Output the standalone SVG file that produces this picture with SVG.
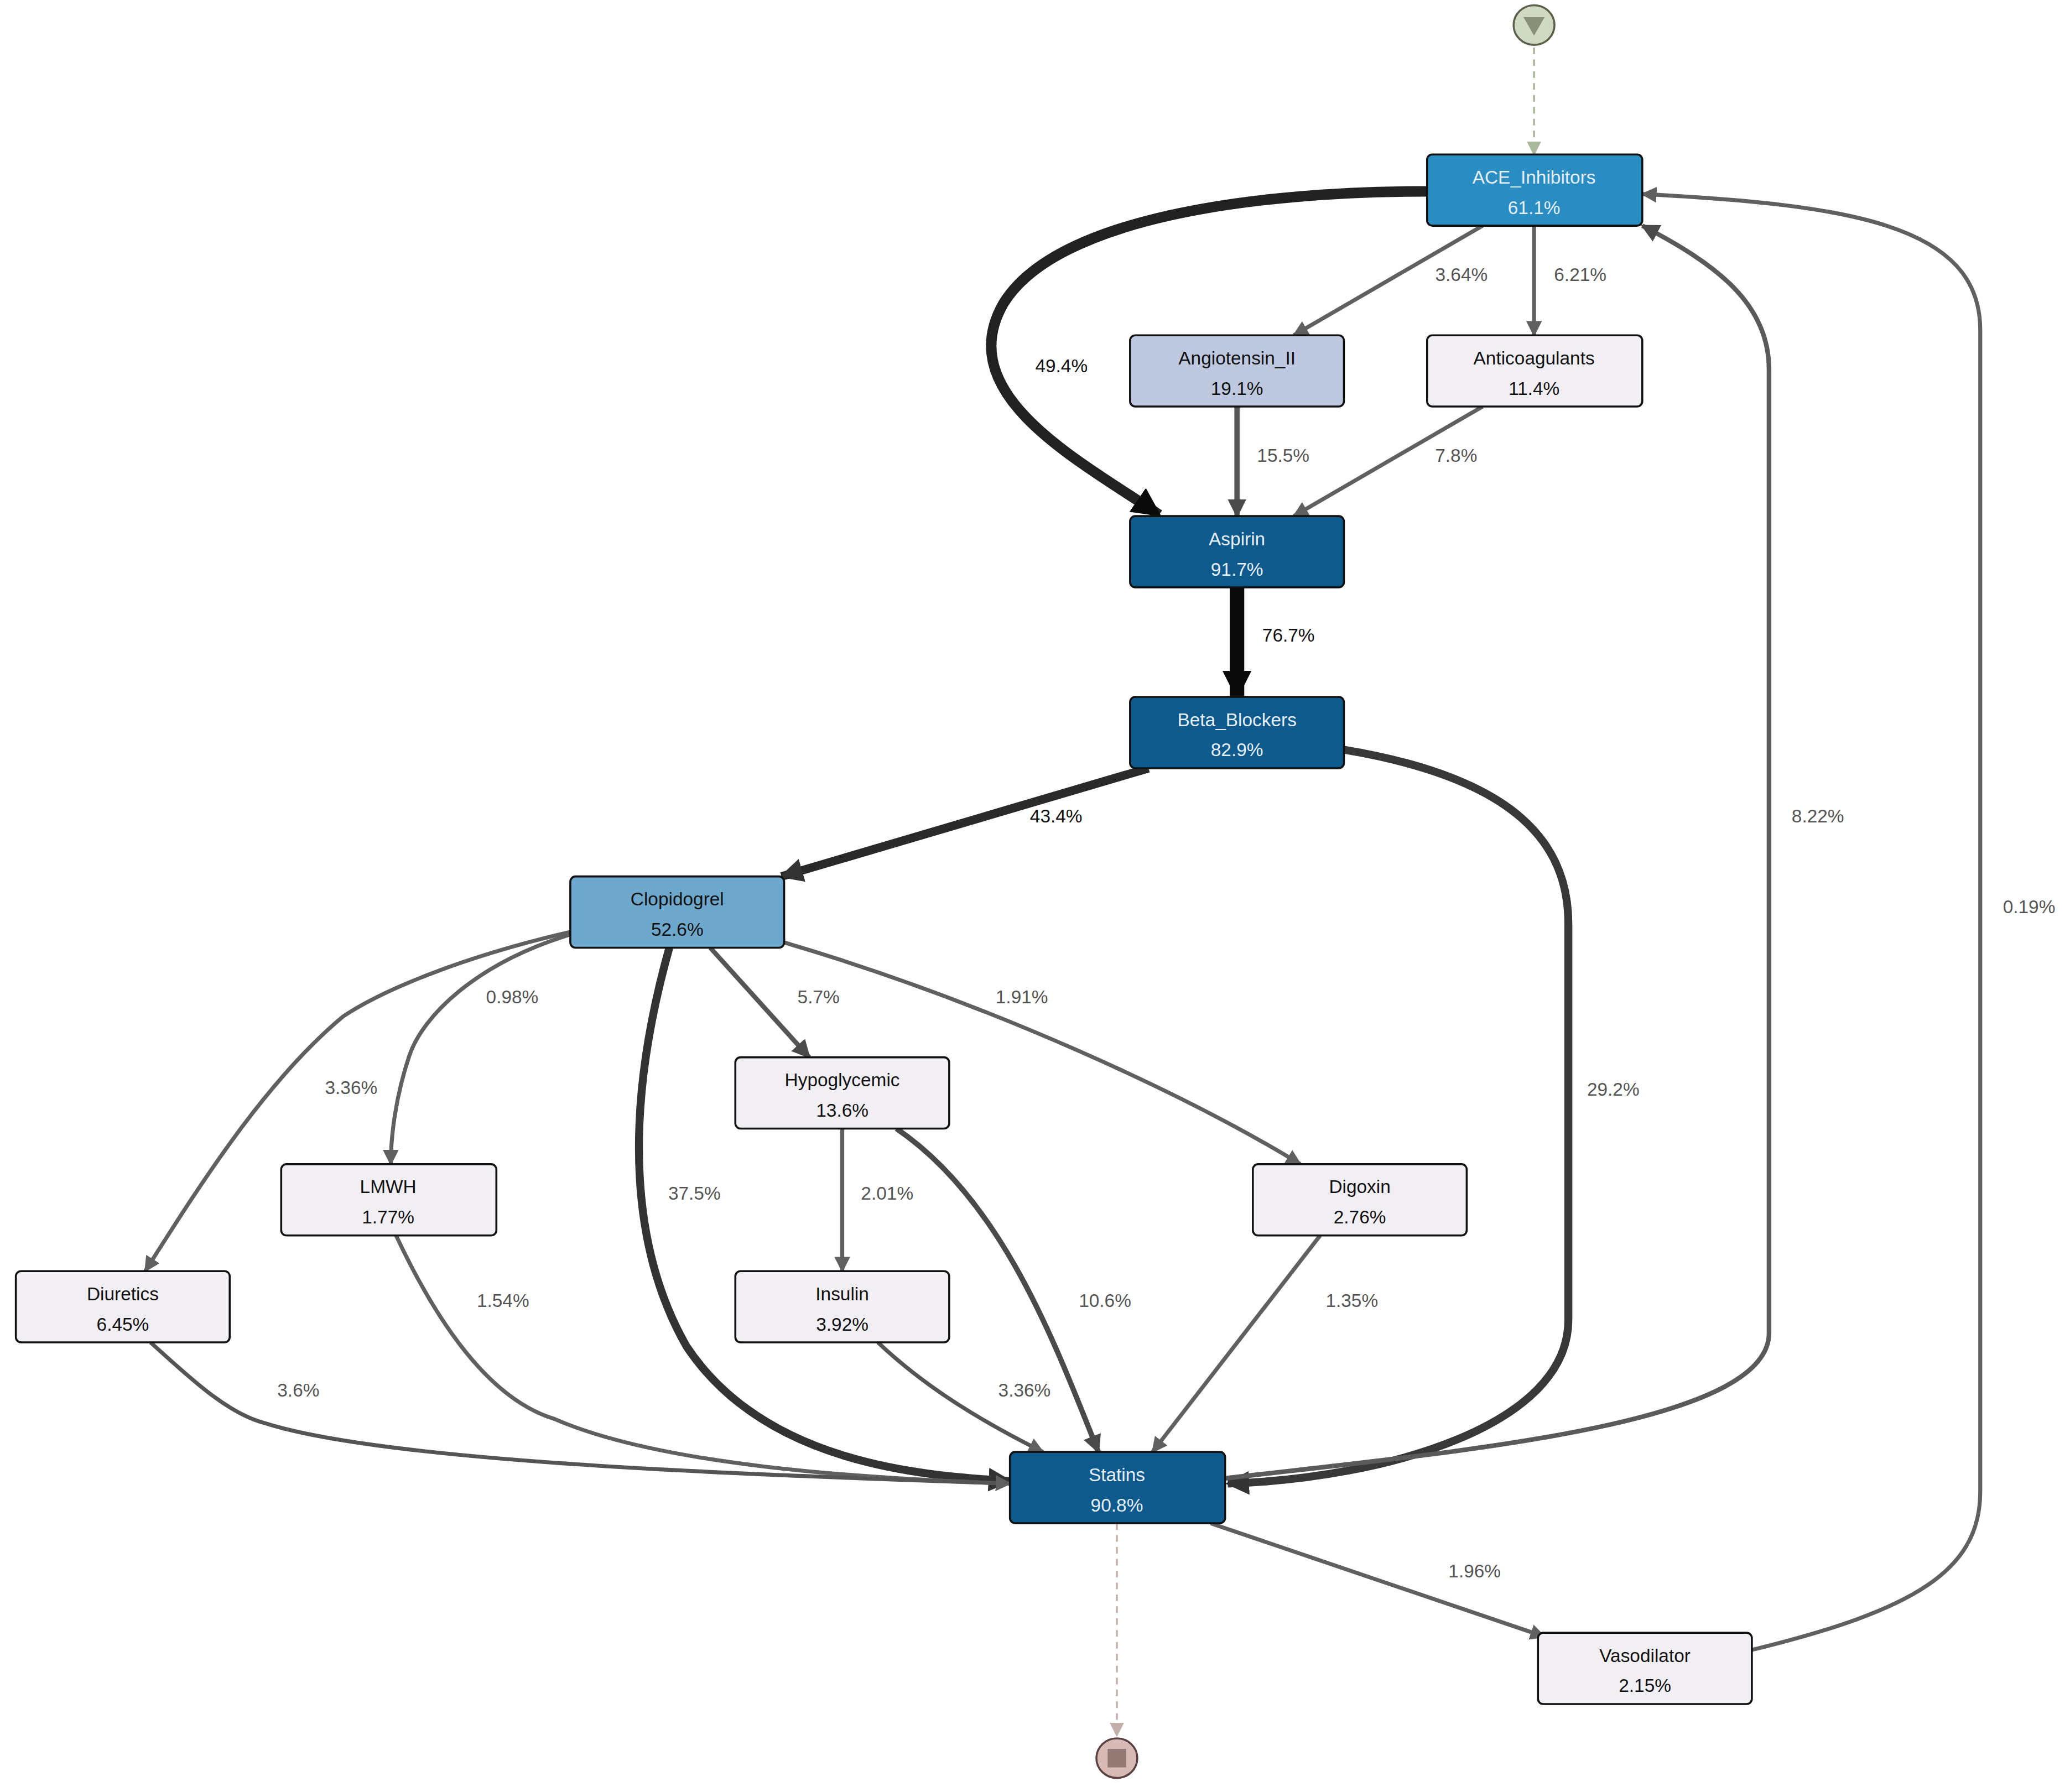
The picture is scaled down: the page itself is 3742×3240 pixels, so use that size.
<svg xmlns="http://www.w3.org/2000/svg" width="3742" height="3240" viewBox="0 0 3742 3240">
<style>
.n{stroke:#111;stroke-width:1.5}
.t{font-family:"Liberation Sans",Arial,sans-serif;font-size:14px;text-anchor:middle}
.d{fill:#e6eef7}
.k{fill:#111}
.e{fill:none}
.l{font-family:"Liberation Sans",Arial,sans-serif;font-size:14px;text-anchor:middle;fill:#555}
.lb{fill:#111}
</style>
<defs>
<marker id="ag" markerUnits="userSpaceOnUse" viewBox="0 0 10 10" refX="9" refY="5" markerWidth="12" markerHeight="12" orient="auto"><path d="M0,0L10,5L0,10z" fill="#606060"/></marker>
<marker id="ag2" markerUnits="userSpaceOnUse" viewBox="0 0 10 10" refX="9" refY="5" markerWidth="14" markerHeight="14" orient="auto"><path d="M0,0L10,5L0,10z" fill="#4a4a4a"/></marker>
<marker id="ad" markerUnits="userSpaceOnUse" viewBox="0 0 10 10" refX="9" refY="5" markerWidth="18" markerHeight="18" orient="auto"><path d="M0,0L10,5L0,10z" fill="#333"/></marker>
<marker id="ak" markerUnits="userSpaceOnUse" viewBox="0 0 10 10" refX="9" refY="5" markerWidth="22" markerHeight="22" orient="auto"><path d="M0,0L10,5L0,10z" fill="#0a0a0a"/></marker>
<marker id="as" markerUnits="userSpaceOnUse" viewBox="0 0 10 10" refX="9" refY="5" markerWidth="11" markerHeight="11" orient="auto"><path d="M0,0L10,5L0,10z" fill="#a9b79a"/></marker>
<marker id="ae" markerUnits="userSpaceOnUse" viewBox="0 0 10 10" refX="9" refY="5" markerWidth="11" markerHeight="11" orient="auto"><path d="M0,0L10,5L0,10z" fill="#c4b0ab"/></marker>
</defs>
<rect width="3742" height="3240" fill="#fff"/>
<g transform="scale(2.3865)">
<g id="connectors">
<path class="e" d="M1162,36L1162,117" stroke="#a9b79a" stroke-width="1.5" stroke-dasharray="5,4" marker-end="url(#as)"/>
<path class="e" d="M1081,145C950,145 800,165 760,230C720,300 820,350 878,390" stroke="#222" stroke-width="8" marker-end="url(#ak)"/>
<path class="e" d="M1123,171L980,254" stroke="#606060" stroke-width="3" marker-end="url(#ag)"/>
<path class="e" d="M1162,171L1162,254" stroke="#606060" stroke-width="3" marker-end="url(#ag)"/>
<path class="e" d="M937,308L937,391" stroke="#555" stroke-width="4" marker-end="url(#ag2)"/>
<path class="e" d="M1123,308L980,391" stroke="#606060" stroke-width="3" marker-end="url(#ag)"/>
<path class="e" d="M937,445L937,528" stroke="#0a0a0a" stroke-width="11" marker-end="url(#ak)"/>
<path class="e" d="M870,582L592,664" stroke="#2a2a2a" stroke-width="6.5" marker-end="url(#ad)"/>
<path class="e" d="M1018,568C1150,590 1188,640 1188,700L1188,1000C1188,1080 1050,1120 930,1124" stroke="#383838" stroke-width="6" marker-end="url(#ad)"/>
<path class="e" d="M928,1120C1100,1100 1340,1080 1340,1010L1340,280C1340,230 1300,200 1244,171" stroke="#5a5a5a" stroke-width="3.5" marker-end="url(#ag2)"/>
<path class="e" d="M1327,1250C1450,1220 1500,1190 1500,1130L1500,250C1500,170 1400,155 1244,147" stroke="#606060" stroke-width="3" marker-end="url(#ag)"/>
<path class="e" d="M507,718C470,850 480,950 520,1020C580,1110 700,1118 765,1122" stroke="#333" stroke-width="6" marker-end="url(#ad)"/>
<path class="e" d="M432,706C350,725 290,750 260,770C200,820 150,900 110,963" stroke="#606060" stroke-width="3" marker-end="url(#ag)"/>
<path class="e" d="M432,708C360,730 320,770 310,800C300,830 296,860 296,882" stroke="#606060" stroke-width="3" marker-end="url(#ag)"/>
<path class="e" d="M538,718L613,801" stroke="#555" stroke-width="3.5" marker-end="url(#ag2)"/>
<path class="e" d="M594,714C750,760 900,830 985,882" stroke="#606060" stroke-width="3" marker-end="url(#ag)"/>
<path class="e" d="M638,855L638,963" stroke="#606060" stroke-width="3" marker-end="url(#ag)"/>
<path class="e" d="M679,855C760,910 800,1020 832,1100" stroke="#4a4a4a" stroke-width="4" marker-end="url(#ag2)"/>
<path class="e" d="M1000,936L873,1100" stroke="#606060" stroke-width="3" marker-end="url(#ag)"/>
<path class="e" d="M300,936C330,1000 370,1060 420,1075C500,1110 650,1120 765,1124" stroke="#606060" stroke-width="3" marker-end="url(#ag)"/>
<path class="e" d="M665,1017C700,1050 740,1075 790,1100" stroke="#555" stroke-width="3" marker-end="url(#ag)"/>
<path class="e" d="M114,1017C140,1040 170,1070 200,1078C300,1110 600,1118 765,1124" stroke="#555" stroke-width="3" marker-end="url(#ag)"/>
<path class="e" d="M917,1154L1170,1240" stroke="#606060" stroke-width="3" marker-end="url(#ag)"/>
<path class="e" d="M846,1154L846,1315" stroke="#c4b0ab" stroke-width="1.5" stroke-dasharray="5,4" marker-end="url(#ae)"/>
<text class="l lb" x="804" y="282">49.4%</text>
<text class="l" x="1107" y="213">3.64%</text>
<text class="l" x="1197" y="213">6.21%</text>
<text class="l" x="972" y="350">15.5%</text>
<text class="l" x="1103" y="350">7.8%</text>
<text class="l lb" x="976" y="486">76.7%</text>
<text class="l lb" x="800" y="623">43.4%</text>
<text class="l" x="1222" y="830">29.2%</text>
<text class="l" x="1377" y="623">8.22%</text>
<text class="l" x="1537" y="692">0.19%</text>
<text class="l" x="526" y="909">37.5%</text>
<text class="l" x="266" y="829">3.36%</text>
<text class="l" x="388" y="760">0.98%</text>
<text class="l" x="620" y="760">5.7%</text>
<text class="l" x="774" y="760">1.91%</text>
<text class="l" x="672" y="909">2.01%</text>
<text class="l" x="837" y="990">10.6%</text>
<text class="l" x="1024" y="990">1.35%</text>
<text class="l" x="381" y="990">1.54%</text>
<text class="l" x="776" y="1058">3.36%</text>
<text class="l" x="226" y="1058">3.6%</text>
<text class="l" x="1117" y="1195">1.96%</text>
</g>
<g id="start"><ellipse cx="1162" cy="19" rx="15.5" ry="15" fill="#d0d9c1" stroke="#5a604a" stroke-width="1.5"/><path d="M1154,13L1170,13L1162,27z" fill="#8a9078"/></g>
<g id="end"><ellipse cx="846" cy="1332" rx="15.5" ry="15" fill="#d7b9b5" stroke="#5a4040" stroke-width="1.5"/><rect x="839" y="1325" width="14" height="14" fill="#937874"/></g>
<g id="ACE_Inhibitors"><rect class="n" x="1081" y="117" width="163" height="54" rx="4" fill="#2a8dc1"/><text class="t d" x="1162" y="139">ACE_Inhibitors</text><text class="t d" x="1162" y="162">61.1%</text></g>
<g id="Angiotensin_II"><rect class="n" x="856" y="254" width="162" height="54" rx="4" fill="#bec9e0"/><text class="t k" x="937" y="276">Angiotensin_II</text><text class="t k" x="937" y="299">19.1%</text></g>
<g id="Anticoagulants"><rect class="n" x="1081" y="254" width="163" height="54" rx="4" fill="#f2eff4"/><text class="t k" x="1162" y="276">Anticoagulants</text><text class="t k" x="1162" y="299">11.4%</text></g>
<g id="Aspirin"><rect class="n" x="856" y="391" width="162" height="54" rx="4" fill="#0f5a8c"/><text class="t d" x="937" y="413">Aspirin</text><text class="t d" x="937" y="436">91.7%</text></g>
<g id="Beta_Blockers"><rect class="n" x="856" y="528" width="162" height="54" rx="4" fill="#0f5a8c"/><text class="t d" x="937" y="550">Beta_Blockers</text><text class="t d" x="937" y="573">82.9%</text></g>
<g id="Clopidogrel"><rect class="n" x="432" y="664" width="162" height="54" rx="4" fill="#6ea8cd"/><text class="t k" x="513" y="686">Clopidogrel</text><text class="t k" x="513" y="709">52.6%</text></g>
<g id="Hypoglycemic"><rect class="n" x="557" y="801" width="162" height="54" rx="4" fill="#f2eff4"/><text class="t k" x="638" y="823">Hypoglycemic</text><text class="t k" x="638" y="846">13.6%</text></g>
<g id="LMWH"><rect class="n" x="213" y="882" width="163" height="54" rx="4" fill="#f2eff4"/><text class="t k" x="294" y="904">LMWH</text><text class="t k" x="294" y="927">1.77%</text></g>
<g id="Digoxin"><rect class="n" x="949" y="882" width="162" height="54" rx="4" fill="#f2eff4"/><text class="t k" x="1030" y="904">Digoxin</text><text class="t k" x="1030" y="927">2.76%</text></g>
<g id="Diuretics"><rect class="n" x="12" y="963" width="162" height="54" rx="4" fill="#f2eff4"/><text class="t k" x="93" y="985">Diuretics</text><text class="t k" x="93" y="1008">6.45%</text></g>
<g id="Insulin"><rect class="n" x="557" y="963" width="162" height="54" rx="4" fill="#f2eff4"/><text class="t k" x="638" y="985">Insulin</text><text class="t k" x="638" y="1008">3.92%</text></g>
<g id="Statins"><rect class="n" x="765" y="1100" width="163" height="54" rx="4" fill="#0f5a8c"/><text class="t d" x="846" y="1122">Statins</text><text class="t d" x="846" y="1145">90.8%</text></g>
<g id="Vasodilator"><rect class="n" x="1165" y="1237" width="162" height="54" rx="4" fill="#f2eff4"/><text class="t k" x="1246" y="1259">Vasodilator</text><text class="t k" x="1246" y="1282">2.15%</text></g>
</g>
</svg>
